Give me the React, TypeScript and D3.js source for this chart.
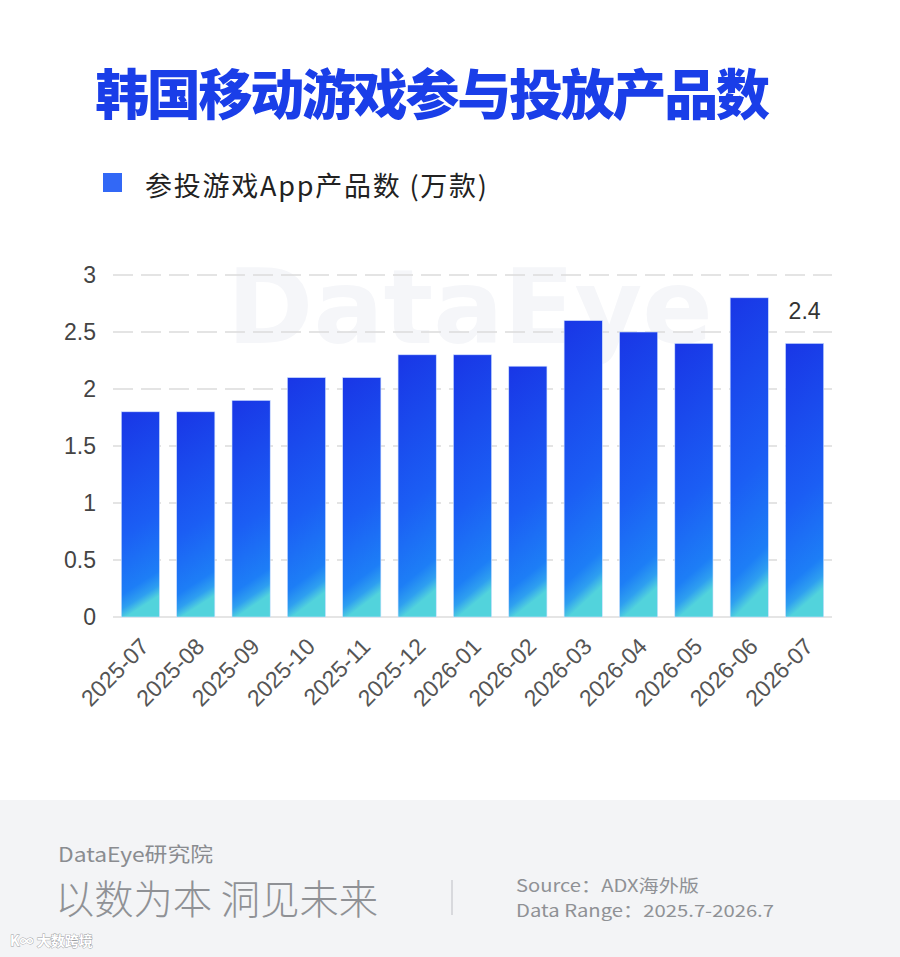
import React from "react";
import * as d3 from "d3";

const months = [
  "2025-07", "2025-08", "2025-09", "2025-10", "2025-11", "2025-12",
  "2026-01", "2026-02", "2026-03", "2026-04", "2026-05", "2026-06", "2026-07",
];
const values = [1.8, 1.8, 1.9, 2.1, 2.1, 2.3, 2.3, 2.2, 2.6, 2.5, 2.4, 2.8, 2.4];
const yTicks = [0, 0.5, 1, 1.5, 2, 2.5, 3];
const titleText = "韩国移动游戏参与投放产品数";
const legendText = "参投游戏App产品数 (万款)";
const sourceLines = ["Source：ADX海外版", "Data Range：2025.7-2026.7"];

const W = 900;
const H = 957;
const CJK = "'Noto Sans CJK SC', 'Noto Sans', sans-serif";
const NUM = "'Liberation Sans', Arial, sans-serif";

export default function App() {
  const x = d3.scaleBand<string>().domain(months).range([113, 832]).paddingInner(0.31).paddingOuter(0.15);
  const y = d3.scaleLinear().domain([0, 3]).range([617, 275]);
  const last = values.length - 1;

  return (
    <div style={{ position: "absolute", left: 0, top: 0, width: W, height: H }}>
      <svg width={W} height={H} style={{ display: "block" }}>
        <defs>
          <linearGradient id="barGrad" x1="0" y1="0" x2="0.12" y2="1">
            <stop offset="0" stopColor="#1936e6" />
            <stop offset="0.6" stopColor="#1b5ef4" />
            <stop offset="0.88" stopColor="#1d7ef6" />
            <stop offset="0.95" stopColor="#2e9ff0" />
            <stop offset="1" stopColor="#52d3dc" />
          </linearGradient>
        </defs>
        <rect x={0} y={0} width={W} height={H} fill="#ffffff" />

        {/* watermark */}
        <text x={470} y={343} textAnchor="middle" fontFamily={"'DejaVu Sans', sans-serif"} fontWeight={700}
          fontSize={104} fill="#f5f6f9" letterSpacing={0}>DataEye</text>

        {/* title */}
        <text x={95} y={115} fontFamily={CJK} fontWeight={900} fontSize={54} textLength={675}
          lengthAdjust="spacing" fill="#1a3ee8">
          {titleText}
        </text>

        {/* legend */}
        <rect x={103} y={173} width={19} height={19} fill="#3268f6" />
        <text x={145} y={196} fontFamily={CJK} fontSize={27} textLength={342} lengthAdjust="spacing" fill="#222">
          {legendText}
        </text>

        {/* grid */}
        {yTicks.map((t) => (
          <line key={t} x1={113} x2={832} y1={y(t)} y2={y(t)} stroke="#dcdcdc" strokeWidth={1.5}
            strokeDasharray={t === 0 ? undefined : "20 8"} />
        ))}
        {yTicks.map((t) => (
          <text key={"l" + t} x={96} y={y(t) + 8} textAnchor="end" fontFamily={NUM} fontSize={23} fill="#444">
            {t}
          </text>
        ))}

        {/* bars */}
        {values.map((v, i) => (
          <rect key={months[i]} x={x(months[i])} y={y(v)} width={x.bandwidth()} height={y(0) - y(v)}
            fill="url(#barGrad)" stroke="#cfe0ff" strokeWidth={0.6} />
        ))}

        {/* value label */}
        <text x={(x(months[last]) as number) + x.bandwidth() / 2} y={y(values[last]) - 24} textAnchor="middle"
          fontFamily={NUM} fontSize={23} fill="#333">{values[last]}</text>

        {/* x labels */}
        {months.map((m) => {
          const cx = (x(m) as number) + x.bandwidth() / 2 + 10;
          const cy = 648;
          return (
            <text key={"x" + m} x={cx} y={cy} transform={`rotate(-45, ${cx}, ${cy})`} textAnchor="end"
              fontFamily={NUM} fontSize={23} fill="#555">{m}</text>
          );
        })}

        {/* footer */}
        <rect x={0} y={800} width={W} height={157} fill="#f3f4f6" />
        <text x={58} y={862} fontFamily={CJK} fontSize={20} textLength={155} lengthAdjust="spacingAndGlyphs"
          fill="#8a8c90">DataEye研究院</text>
        <text x={55} y={914} fontFamily={CJK} fontWeight={300} fontSize={40} textLength={323}
          lengthAdjust="spacingAndGlyphs" fill="#8f9195">以数为本 洞见未来</text>
        <line x1={452} x2={452} y1={880} y2={915} stroke="#cfd1d4" strokeWidth={1.5} />
        {sourceLines.map((s, i) => (
          <text key={s} x={516} y={892 + i * 25} fontFamily={CJK} fontSize={17} textLength={i === 0 ? 183 : 258}
            lengthAdjust="spacingAndGlyphs" fill="#8f9195">{s}</text>
        ))}
        <text x={10} y={946} fontFamily={CJK} fontWeight={700} fontSize={14} fill="#ffffff" stroke="#9a9ca0"
          strokeWidth={0.8} paintOrder="stroke">K∞ 大数跨境</text>
      </svg>
    </div>
  );
}
